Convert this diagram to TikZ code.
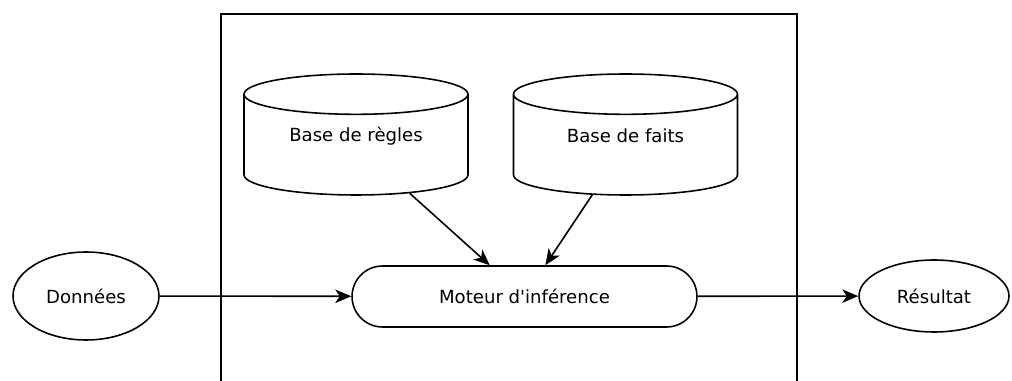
\documentclass[tikz,border=0pt]{standalone}
\usepackage{fontspec}
\setmainfont{DejaVu Sans}
\usetikzlibrary{shapes.geometric}
\usetikzlibrary{shapes.misc}
\usetikzlibrary{arrows.meta}
\begin{document}
\begin{tikzpicture}[x=0.02cm, y=-0.02cm]
        % ================= 样式定义 =================
        \tikzset{
            % 数据库:圆柱
            base/.style={cylinder, shape border rotate=90, aspect=0.18, draw=black, line width=0.9pt,
                fill=white, text width=4.48cm, minimum width=4.48cm, minimum height=2.42cm,
                inner sep=0pt, anchor=shape center},
            % 推理机:圆角矩形
            engine/.style={rounded rectangle, draw=black, line width=0.9pt, fill=white,
                minimum width=6.9cm, minimum height=1.22cm, inner sep=0pt},
            % 输入输出:椭圆
            io/.style={ellipse, draw=black, line width=0.9pt, fill=white, inner sep=0pt},
            % 箭头
            flow/.style={line width=0.9pt, -{Stealth[length=0.32cm, width=0.27cm, inset=0.09cm]}}
        }
        \fontsize{10.3}{12}\selectfont

        % ================= 0. 边界 =================
        \useasboundingbox (0,0) rectangle (1012,381);

        % ================= 1. 外框 =================
        \coordinate (f1) at (221,381);  % 左下
        \coordinate (f2) at (797,14);   % 右上
        \coordinate (f3) at (797,381);  % 右下
        \draw[line width=0.9pt] (f1) |- (f2) -- (f3);

        % ================= 2. 节点 =================
        \node[base] (rules) at (356,134.5) {};
        \node (rulest) at ([yshift=-1pt]rules.shape center) {Base de règles};
        \node[base] (facts) at (625.5,134.5) {};
        \node (factst) at ([yshift=-1pt]facts.shape center) {Base de faits};
        \node[engine] (moteur) at (524.5,296.5) {Moteur d\textquotesingle inférence};
        \node[io, minimum width=2.92cm, minimum height=1.76cm] (data) at (86,296) {Données};
        \node[io, minimum width=3.0cm, minimum height=1.44cm] (result) at (934,296) {Résultat};

        % ================= 3. 箭头 =================
        \draw[flow] (rules) -- (moteur);
        \draw[flow] (facts) -- (moteur);
        \draw[flow] (data) -- (moteur);
        \draw[flow] (moteur) -- (result);

    \end{tikzpicture}
\end{document}
